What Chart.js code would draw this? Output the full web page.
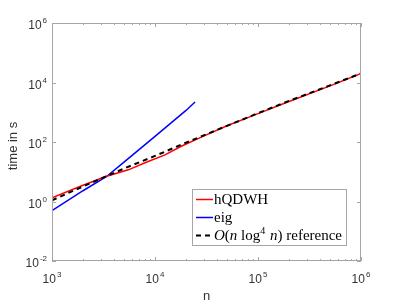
<!DOCTYPE html>
<html>
<head>
<meta charset="utf-8">
<title>hQDWH timing</title>
<script src="https://cdn.jsdelivr.net/npm/chart.js"></script>
<style>
  body { margin: 0; background: #fff; }
  canvas { display: block; }
</style>
</head>
<body>
<canvas id="chart" width="399" height="304"></canvas>
<script>
// matrix size n and run time in seconds
const nQdwh = [1000, 2000, 2610, 3270, 5510, 8000, 12500, 18000, 29200, 50000, 100000, 200000, 500000, 1000000];
const tQdwh = [1.32, 3.5, 5.0, 6.8, 11.6, 20, 37, 72, 155, 350, 900, 2300, 7700, 20000];
const nEig = [1000, 2000, 3365, 5000, 10000, 20000, 24500];
const tEig = [0.49, 2.3, 6.8, 21, 155, 1150, 2200];
const nRef = [1000, 2000, 5000, 10000, 20000, 50000, 100000, 200000, 500000, 1000000];
const tRef = [1.1, 3.2, 12.8, 34, 95, 350, 930, 2400, 8000, 20200];
const seriesLabels = ['hQDWH', 'eig', 'O(n log^4 n) reference'];
const xTickValues = [1e3, 1e4, 1e5, 1e6];
const yTickValues = [1e-2, 1e0, 1e2, 1e4, 1e6];

// third legend entry written as math: O(n log^4 n)
const refLabelParts = [
    { t: 'O', style: 'italic' },
    { t: '(' },
    { t: 'n', style: 'italic' },
    { t: ' log' },
    { t: '4', sup: true },
    { t: ' ' },
    { t: 'n', style: 'italic' },
    { t: ') reference' }
];

const SANS = '"Liberation Sans", Arial, sans-serif';
const SERIF = '"Liberation Serif", "Times New Roman", serif';

function toPoints(xs, ys) {
    return xs.map((x, i) => ({ x: x, y: ys[i] }));
}

function drawPowLabel(ctx, value, x, y, align) {
    const exp = String(Math.round(Math.log10(value)));
    ctx.font = '12px ' + SANS;
    const bw = ctx.measureText('10').width;
    ctx.font = '8px ' + SANS;
    const ew = ctx.measureText(exp).width;
    const total = bw + 1 + ew;
    const x0 = align === 'right' ? x - total : x - total / 2;
    ctx.textAlign = 'left';
    ctx.textBaseline = 'alphabetic';
    ctx.font = '12px ' + SANS;
    ctx.fillText('10', x0, y);
    ctx.font = '8px ' + SANS;
    ctx.fillText(exp, x0 + bw + 1, y - 6);
}

const frame = {
    id: 'frame',
    afterDraw(chart) {
        const ctx = chart.ctx;
        const a = chart.chartArea;
        const xs = chart.scales.x;
        const ys = chart.scales.y;
        ctx.save();

        // box
        ctx.strokeStyle = '#a6a6a6';
        ctx.lineWidth = 1;
        ctx.strokeRect(a.left + 0.5, a.top + 0.5, a.right - a.left - 1, a.bottom - a.top - 1);

        // x ticks, major and minor, inward on top and bottom
        ctx.beginPath();
        for (let k = 3; k <= 6; k++) {
            for (let m = 1; m <= 9; m++) {
                const v = m * Math.pow(10, k);
                if (v > 1e6) break;
                const px = Math.round(xs.getPixelForValue(v)) + 0.5;
                const len = m === 1 ? 4 : 2;
                ctx.moveTo(px, a.bottom);
                ctx.lineTo(px, a.bottom - len);
                ctx.moveTo(px, a.top);
                ctx.lineTo(px, a.top + len);
            }
        }
        yTickValues.forEach(v => {
            const py = Math.round(ys.getPixelForValue(v)) + 0.5;
            ctx.moveTo(a.left, py);
            ctx.lineTo(a.left + 4, py);
            ctx.moveTo(a.right, py);
            ctx.lineTo(a.right - 4, py);
        });
        ctx.stroke();

        // tick labels
        ctx.fillStyle = '#333';
        xTickValues.forEach(v => {
            drawPowLabel(ctx, v, xs.getPixelForValue(v), a.bottom + 22, 'center');
        });
        yTickValues.forEach(v => {
            drawPowLabel(ctx, v, a.left - 5, ys.getPixelForValue(v) + 6, 'right');
        });

        // axis titles
        ctx.font = '13px ' + SANS;
        ctx.textAlign = 'center';
        ctx.textBaseline = 'alphabetic';
        ctx.fillText('n', (a.left + a.right) / 2, 300);
        ctx.save();
        ctx.translate(17, (a.top + a.bottom) / 2 + 4);
        ctx.rotate(-Math.PI / 2);
        ctx.fillText('time in s', 0, 0);
        ctx.restore();

        // legend
        const lx = 192.5, ly = 189.5, lw = 154, lh = 56;
        ctx.fillStyle = '#fff';
        ctx.fillRect(lx, ly, lw, lh);
        ctx.strokeStyle = '#a6a6a6';
        ctx.strokeRect(lx, ly, lw, lh);
        const rows = [199, 217, 235];
        chart.data.datasets.forEach(ds => {
            const i = seriesLabels.indexOf(ds.label);
            const yy = rows[i] + 0.5;
            ctx.strokeStyle = ds.borderColor;
            ctx.lineWidth = ds.borderWidth;
            ctx.setLineDash(ds.borderDash || []);
            ctx.beginPath();
            ctx.moveTo(196, yy);
            ctx.lineTo(213, yy);
            ctx.stroke();
            ctx.setLineDash([]);
            ctx.fillStyle = '#000';
            ctx.textAlign = 'left';
            ctx.textBaseline = 'alphabetic';
            const base = rows[i] + 4.5;
            if (i < 2) {
                ctx.font = '15px ' + SERIF;
                ctx.fillText(ds.label, 214, base);
            } else {
                let x = 214;
                refLabelParts.forEach(p => {
                    const size = p.sup ? 10 : 15;
                    ctx.font = (p.style === 'italic' ? 'italic ' : '') + size + 'px ' + SERIF;
                    ctx.fillText(p.t, x, p.sup ? base - 6 : base);
                    x += ctx.measureText(p.t).width + (p.sup ? 1 : 0);
                });
            }
        });
        ctx.restore();
    }
};

new Chart(document.getElementById('chart').getContext('2d'), {
    type: 'line',
    data: {
        datasets: [
            {
                label: seriesLabels[0],
                data: toPoints(nQdwh, tQdwh),
                borderColor: '#ff0000',
                borderWidth: 1.5,
                pointRadius: 0,
                fill: false,
                order: 1
            },
            {
                label: seriesLabels[1],
                data: toPoints(nEig, tEig),
                borderColor: '#0000ff',
                borderWidth: 1.5,
                pointRadius: 0,
                fill: false,
                order: 2
            },
            {
                label: seriesLabels[2],
                data: toPoints(nRef, tRef),
                borderColor: '#000000',
                borderWidth: 2,
                borderDash: [5, 4],
                pointRadius: 0,
                fill: false,
                order: 0
            }
        ]
    },
    options: {
        responsive: false,
        animation: false,
        layout: { padding: { left: 52, top: 23, right: 38, bottom: 43 } },
        plugins: {
            legend: { display: false },
            tooltip: { enabled: false }
        },
        scales: {
            x: { type: 'logarithmic', min: 1e3, max: 1e6, display: false },
            y: { type: 'logarithmic', min: 1e-2, max: 1e6, display: false }
        }
    },
    plugins: [frame]
});
</script>
</body>
</html>
